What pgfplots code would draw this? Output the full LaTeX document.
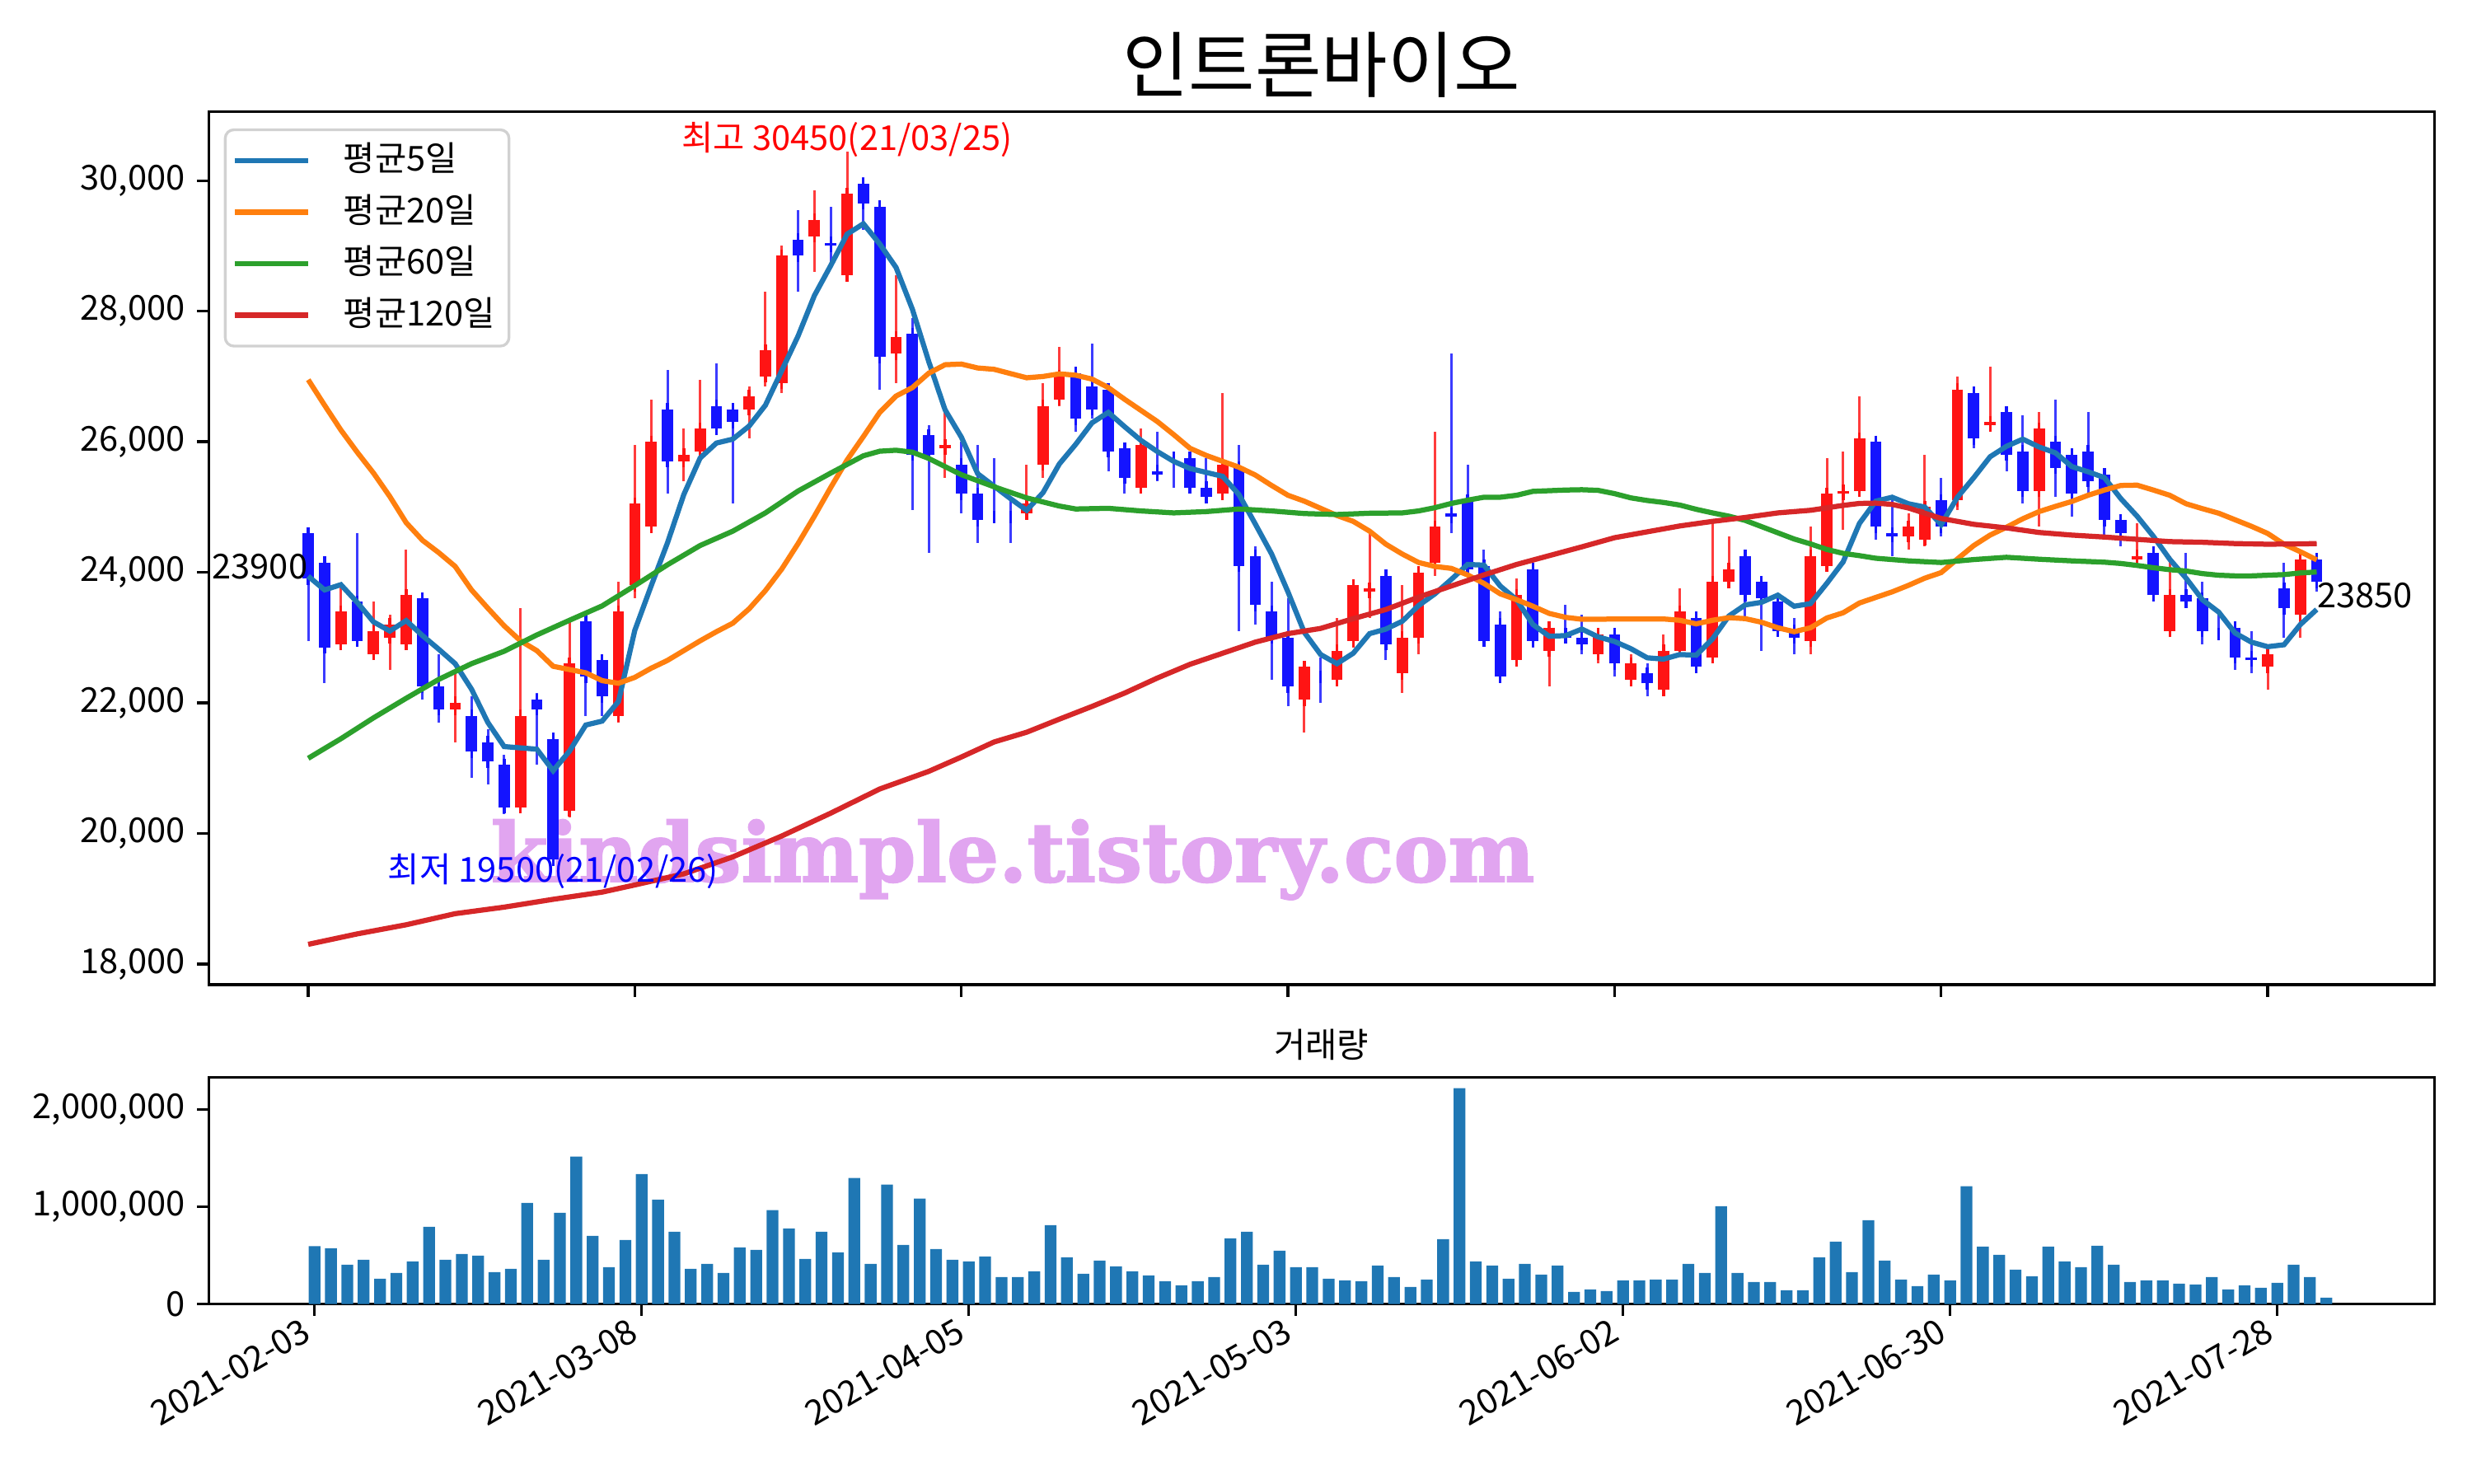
\documentclass[border=0pt]{standalone}
\usepackage{fontspec}
\setmainfont{Noto Sans CJK KR}
\newfontfamily\wmfont{DejaVu Serif}[BoldFeatures={FakeBold=2}]
\usepackage{pgfplots}
\usepackage{pgfplotstable}
\pgfplotsset{compat=1.18}

\definecolor{ma5}{HTML}{1F77B4}
\definecolor{ma20}{HTML}{FF7F0E}
\definecolor{ma60}{HTML}{2CA02C}
\definecolor{ma120}{HTML}{D62728}
\definecolor{upbody}{RGB}{255,20,20}
\definecolor{upwick}{RGB}{255,60,60}
\definecolor{dnbody}{RGB}{20,20,255}
\definecolor{dnwick}{RGB}{60,60,255}
\definecolor{wmark}{RGB}{225,165,240}

% rising days (red)
\pgfplotstableread{
i o h l c
2 22900 23800 22900 23400
4 22750 23550 22700 23100
5 23000 23350 22500 23200
6 22900 24350 22900 23650
9 21900 22500 21400 22000
13 20400 23450 20400 21800
16 20350 23300 20250 22600
19 21800 23850 21700 23400
20 23800 25950 23600 25050
21 24700 26650 24600 26000
23 25700 26200 25400 25800
24 25850 26950 25800 26200
27 26500 26850 26050 26700
28 27000 28300 26850 27400
29 26900 29000 26750 28850
31 29150 29850 28600 29400
33 28550 30450 28550 29800
36 27350 28550 26900 27600
39 25900 26500 25450 25950
44 24900 25650 24800 25050
45 25650 26900 25450 26550
46 26650 27450 26550 27000
51 25300 26200 25250 25950
56 25200 26750 25200 25650
61 22050 22550 21550 22550
63 22350 23300 22250 22800
64 22950 23850 22850 23800
65 23700 24600 23300 23750
67 22450 23800 22150 23000
68 23000 24100 22750 24000
69 24150 26150 23950 24700
74 22650 23900 22650 23650
76 22800 23200 22250 23150
79 22750 23050 22600 23050
81 22350 22750 22350 22600
83 22200 23050 22100 22800
84 22800 23750 22800 23400
86 22700 24750 22650 23850
87 23850 24550 23750 24050
92 22950 24700 22750 24250
93 24100 25750 24050 25200
94 25200 25850 24650 25250
95 25250 26700 25150 26050
98 24550 24900 24350 24700
99 24500 25800 24400 25000
101 25100 27000 24950 26800
103 26250 27150 26150 26300
106 25250 26450 24700 26200
112 24200 24750 24200 24250
114 23100 24250 23100 23650
120 22550 22800 22200 22750
122 23350 24250 23000 24200
}\up

% falling days (blue)
\pgfplotstableread{
i o h l c
0 24600 24600 22950 23900
1 24150 24150 22300 22850
3 23550 24600 22950 22950
7 23600 23650 22050 22250
8 22250 22750 21700 21900
10 21800 22100 20850 21250
11 21400 21600 20750 21100
12 21050 21200 20300 20400
14 22050 22150 21050 21900
15 21450 21450 19500 19600
17 23250 23250 21800 22400
18 22650 22750 21800 22100
22 26500 27100 25200 25700
25 26550 27200 26200 26200
26 26500 26600 25050 26300
30 29100 29550 28300 28850
32 29050 29600 28750 29000
34 29950 30050 29250 29650
35 29600 29700 26800 27300
37 27650 27900 24950 25800
38 26100 26250 24300 25800
40 25650 26000 24900 25200
41 25200 25950 24450 24800
42 24850 25750 24800 24850
43 24850 25150 24450 24850
47 27050 27050 26150 26350
48 26850 27500 26350 26500
49 26800 26800 25550 25850
50 25900 25900 25200 25450
52 25550 26150 25400 25500
53 25750 25750 25300 25750
54 25750 25850 25250 25300
55 25300 25750 25150 25150
57 25600 25950 23100 24100
58 24250 24400 23200 23500
59 23400 23850 22350 23000
60 23000 23600 21950 22250
62 22400 22700 22000 22400
66 23950 24050 22650 22900
70 24900 27350 24600 24850
71 25100 25650 24050 24050
72 24100 24350 22900 22950
73 23200 23400 22350 22400
75 24050 24050 22850 22950
77 23050 23500 22950 23000
78 23000 23350 22750 22900
80 23050 23100 22400 22600
82 22450 22600 22100 22300
85 23300 23400 22550 22550
88 24250 24350 23300 23650
89 23850 23850 22800 23600
90 23550 23600 23100 23100
91 23100 23300 22750 23000
96 26000 26000 24500 24700
97 24600 25100 24250 24550
100 25100 25450 24550 24700
102 26750 26800 25900 26050
104 26450 26450 25550 25800
105 25850 26400 25050 25250
107 26000 26650 25150 25600
108 25800 25850 24850 25200
109 25850 26450 25200 25400
110 25500 25500 24550 24800
111 24800 24850 24400 24600
113 24300 24300 23600 23650
115 23650 24300 23450 23550
116 23600 23850 22900 23100
117 23050 23400 23000 23050
118 23150 23150 22500 22700
119 22700 23100 22450 22650
121 23750 24150 23000 23450
123 24200 24250 23700 23850
}\dn

\pgfplotstableread{
i v
0 23940
1 23730
2 23810
3 23540
4 23240
5 23100
6 23260
7 23030
8 22820
9 22600
10 22210
11 21700
12 21330
13 21310
14 21290
15 20960
16 21260
17 21660
18 21720
19 22020
20 23110
21 23790
22 24450
23 25190
24 25750
25 25980
26 26040
27 26240
28 26560
29 27090
30 27620
31 28240
32 28700
33 29180
34 29340
35 29030
36 28670
37 28030
38 27230
39 26490
40 26070
41 25510
42 25320
43 25130
44 24950
45 25220
46 25660
47 25960
48 26290
49 26450
50 26230
51 26020
52 25850
53 25700
54 25590
55 25530
56 25470
57 25190
58 24740
59 24280
60 23700
61 23080
62 22740
63 22600
64 22760
65 23060
66 23130
67 23250
68 23490
69 23670
70 23890
71 24120
72 24110
73 23790
74 23580
75 23200
76 23020
77 23030
78 23130
79 23010
80 22940
81 22830
82 22690
83 22670
84 22740
85 22730
86 22980
87 23330
88 23500
89 23540
90 23650
91 23480
92 23520
93 23830
94 24160
95 24750
96 25090
97 25150
98 25050
99 25000
100 24730
101 25150
102 25450
103 25770
104 25930
105 26040
106 25920
107 25830
108 25620
109 25540
110 25450
111 25130
112 24860
113 24550
114 24200
115 23910
116 23580
117 23390
118 23070
119 22930
120 22860
121 22890
122 23200
123 23430
}\mafive

\pgfplotstableread{
i v
0 26950
1 26560
2 26180
3 25840
4 25520
5 25160
6 24760
7 24490
8 24300
9 24090
10 23730
11 23450
12 23180
13 22950
14 22800
15 22560
16 22510
17 22460
18 22340
19 22300
20 22390
21 22530
22 22650
23 22800
24 22950
25 23090
26 23220
27 23440
28 23720
29 24050
30 24440
31 24860
32 25300
33 25720
34 26080
35 26450
36 26700
37 26830
38 27050
39 27180
40 27190
41 27130
42 27110
43 27045
44 26980
45 27000
46 27040
47 27020
48 26960
49 26830
50 26650
51 26480
52 26310
53 26110
54 25900
55 25790
56 25700
57 25610
58 25490
59 25330
60 25180
61 25090
62 24980
63 24870
64 24780
65 24630
66 24430
67 24280
68 24150
69 24090
70 24060
71 23960
72 23830
73 23670
74 23580
75 23480
76 23370
77 23310
78 23280
79 23280
80 23285
81 23285
82 23285
83 23285
84 23265
85 23210
86 23265
87 23305
88 23290
89 23235
90 23150
91 23090
92 23150
93 23300
94 23380
95 23530
96 23615
97 23700
98 23800
99 23910
100 23995
101 24205
102 24410
103 24570
104 24690
105 24820
106 24930
107 25010
108 25085
109 25180
110 25260
111 25330
112 25335
113 25260
114 25180
115 25050
116 24975
117 24905
118 24805
119 24705
120 24595
121 24430
122 24315
123 24190
}\matwenty

\pgfplotstableread{
i v
0 21150
2 21450
4 21770
6 22070
8 22360
10 22600
12 22790
14 23040
16 23265
18 23485
20 23795
22 24115
24 24410
26 24630
28 24910
30 25245
32 25520
34 25785
35 25855
36 25870
37 25840
38 25745
40 25495
42 25310
44 25140
46 25015
47 24970
49 24980
51 24940
53 24910
55 24930
57 24970
59 24940
61 24900
63 24885
65 24905
67 24910
68 24940
69 24990
70 25055
71 25105
72 25150
73 25150
74 25180
75 25240
77 25260
78 25265
79 25255
80 25205
81 25140
82 25100
83 25070
84 25030
85 24965
86 24910
87 24860
88 24795
89 24700
90 24605
91 24510
92 24435
93 24350
94 24290
95 24255
96 24215
98 24175
100 24150
102 24195
104 24230
106 24200
108 24175
110 24155
111 24135
112 24105
113 24070
114 24040
115 24020
116 23980
117 23955
118 23945
119 23945
120 23955
121 23965
122 23990
123 24005
}\masixty

\pgfplotstableread{
i v
0 18300
3 18460
6 18600
9 18770
12 18870
15 18990
18 19100
20 19210
23 19380
26 19640
29 19960
32 20310
35 20680
38 20950
40 21170
42 21400
44 21550
46 21750
48 21945
50 22150
52 22380
54 22590
56 22760
58 22930
60 23060
62 23140
64 23290
66 23430
68 23620
70 23790
72 23960
74 24120
76 24255
78 24390
80 24530
82 24620
84 24710
86 24780
88 24840
90 24910
92 24950
94 25025
95 25055
96 25060
97 25040
98 24985
100 24825
102 24735
104 24680
106 24610
108 24570
110 24540
112 24505
114 24470
116 24460
118 24440
120 24430
122 24435
123 24440
}\mahundred

\pgfplotstableread{
i v
0 594000
1 574000
2 405000
3 456000
4 260000
5 320000
6 439000
7 795000
8 456000
9 515000
10 498000
11 328000
12 362000
13 1041000
14 456000
15 939000
16 1517000
17 702000
18 379000
19 659000
20 1338000
21 1075000
22 744000
23 362000
24 413000
25 320000
26 583000
27 557000
28 965000
29 778000
30 464000
31 744000
32 532000
33 1296000
34 413000
35 1228000
36 608000
37 1084000
38 566000
39 456000
40 439000
41 490000
42 277000
43 277000
44 337000
45 812000
46 481000
47 311000
48 447000
49 388000
50 337000
51 294000
52 235000
53 192000
54 235000
55 277000
56 676000
57 744000
58 405000
59 549000
60 379000
61 379000
62 260000
63 243000
64 235000
65 396000
66 277000
67 175000
68 252000
69 668000
70 2221000
71 439000
72 396000
73 260000
74 413000
75 303000
76 396000
77 125000
78 150000
79 133000
80 243000
81 243000
82 252000
83 252000
84 413000
85 320000
86 1007000
87 320000
88 226000
89 226000
90 141000
91 141000
92 481000
93 642000
94 328000
95 863000
96 447000
97 252000
98 184000
99 303000
100 243000
101 1211000
102 591000
103 507000
104 354000
105 286000
106 591000
107 439000
108 379000
109 600000
110 405000
111 226000
112 243000
113 243000
114 209000
115 201000
116 277000
117 150000
118 192000
119 167000
120 218000
121 405000
122 277000
123 65000
}\vol

\pgfplotsset{
  mpl/.style={
    scale only axis,
    axis line style={line width=0.8pt},
    tick align=outside,
    major tick length=3.5pt,
    every tick/.style={black, line width=0.8pt},
    xtick pos=left, ytick pos=left,
    tick label style={font=\fontsize{10}{12}\selectfont},
    scaled y ticks=false,
    yticklabel style={/pgf/number format/.cd, fixed, 1000 sep={,}, assume math mode=true},
  },
  wick/.style={forget plot, draw=none, mark=none,
    error bars/.cd, y dir=both, y explicit, error mark=none,
    error bar style={draw=#1, line width=0.72pt}},
  body/.style={forget plot, draw=none, mark=none,
    error bars/.cd, y dir=both, y explicit,
    error bar style={draw=#1, line width=3.3pt, line cap=butt},
    error mark=-, error mark options={draw=#1, mark size=1.8pt, line width=0.8pt}},
}

\begin{document}
\begin{tikzpicture}
\path[use as bounding box] (0,0) rectangle (720pt,-432pt);

\node[font=\fontsize{21}{25}\selectfont] at (384.9pt,-19pt) {인트론바이오};

\begin{axis}[mpl,
  at={(60.9pt,-32.5pt)}, anchor=north west,
  width=648.1pt, height=254.3pt,
  xmin=-6.07, xmax=130.2, ymin=17682, ymax=31058,
  xtick={0,20,...,120}, xticklabels={},
  ytick={18000,20000,...,30000},
  legend cell align=left,
  legend image code/.code={\draw[#1] (0pt,0pt) -- (21.4pt,0pt);},
  legend style={at={(0,1)}, anchor=north west, xshift=4.3pt, yshift=-4.9pt,
    draw=black!18, line width=0.8pt, rounded corners=2.5pt,
    fill=white, fill opacity=0.8, text opacity=1,
    font=\fontsize{10}{12}\selectfont,
    inner xsep=2pt, inner ysep=2pt, row sep=1pt,
    nodes={inner sep=2pt, text height=8pt, text depth=2pt},
    /tikz/every odd column/.append style={column sep=7.5pt}},
]
\node[font=\wmfont\bfseries\fontsize{23.8}{27}\selectfont, text=wmark, inner sep=0pt]
  at (axis cs:43.15,19598) {kindsimple.tistory.com};

\addplot [wick=upwick] table [x=i, y=c, y error plus expr=\thisrow{h}-\thisrow{c}, y error minus expr=\thisrow{c}-\thisrow{l}] {\up};
\addplot [wick=dnwick] table [x=i, y=c, y error plus expr=\thisrow{h}-\thisrow{c}, y error minus expr=\thisrow{c}-\thisrow{l}] {\dn};
\addplot [body=upbody] table [x=i, y=c, y error plus expr=0, y error minus expr=\thisrow{c}-\thisrow{o}] {\up};
\addplot [body=dnbody] table [x=i, y=c, y error plus expr=\thisrow{o}-\thisrow{c}, y error minus expr=0] {\dn};

\addplot [ma5, line width=1.5pt] table [x=i, y=v] {\mafive};
\addlegendentry{평균5일}
\addplot [ma20, line width=1.5pt] table [x=i, y=v] {\matwenty};
\addlegendentry{평균20일}
\addplot [ma60, line width=1.5pt] table [x=i, y=v] {\masixty};
\addlegendentry{평균60일}
\addplot [ma120, line width=1.5pt] table [x=i, y=v] {\mahundred};
\addlegendentry{평균120일}

\node[font=\fontsize{10}{12}\selectfont, text=red, anchor=south, inner sep=0pt, yshift=-1.8pt]
  at (axis cs:33,30450) {최고 30450(21/03/25)};
\node[font=\fontsize{10}{12}\selectfont, text=blue, anchor=center, inner sep=0pt]
  at (axis cs:15,19420) {최저 19500(21/02/26)};
\node[font=\fontsize{10}{12}\selectfont, anchor=base east, inner sep=0pt]
  at (axis cs:0,23900) {23900};
\node[font=\fontsize{10}{12}\selectfont, anchor=north west, inner sep=0pt]
  at (axis cs:123,23850) {23850};
\end{axis}

\node[font=\fontsize{10}{12}\selectfont] at (384.9pt,-304.3pt) {거래량};

\begin{axis}[mpl,
  at={(60.9pt,-313.8pt)}, anchor=north west,
  width=648.1pt, height=66pt,
  xmin=-6.45, xmax=129.6, ymin=0, ymax=2332000,
  xtick={0,20,...,120},
  xticklabels={2021-02-03,2021-03-08,2021-04-05,2021-05-03,2021-06-02,2021-06-30,2021-07-28},
  xticklabel style={xshift=-4pt, rotate=30, anchor=north east, inner sep=0pt},
  ytick={0,1000000,2000000},
]
\addplot [ybar, bar width=0.72, fill=ma5, draw=none] table [x=i, y=v] {\vol};
\end{axis}
\end{tikzpicture}
\end{document}
